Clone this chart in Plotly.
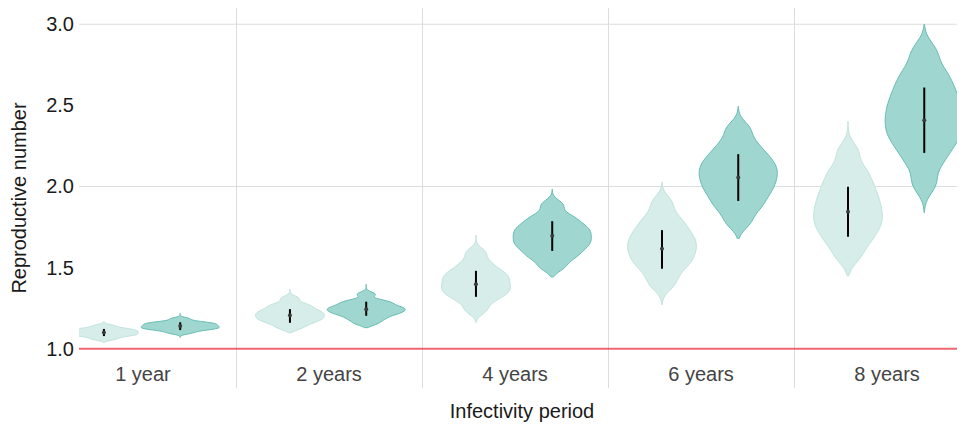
import plotly.graph_objects as go

# ---------------- data ----------------
categories = ["1 year", "2 years", "4 years", "6 years", "8 years"]

# estimated sample quantiles for each violin
s1_light = [1.057, 1.068, 1.078, 1.082, 1.087, 1.091, 1.096, 1.100, 1.105, 1.109, 1.114, 1.118, 1.123, 1.131, 1.144]
s1_dark = [1.096, 1.108, 1.117, 1.121, 1.126, 1.130, 1.134, 1.139, 1.143, 1.148, 1.153, 1.157, 1.162, 1.169, 1.185]
s2_light = [1.126, 1.147, 1.163, 1.173, 1.183, 1.192, 1.201, 1.210, 1.219, 1.228, 1.237, 1.250, 1.264, 1.278, 1.311]
s2_dark = [1.155, 1.177, 1.192, 1.207, 1.216, 1.225, 1.233, 1.241, 1.248, 1.255, 1.264, 1.276, 1.287, 1.299, 1.336]
s4_light = [1.235, 1.283, 1.316, 1.335, 1.353, 1.370, 1.387, 1.405, 1.423, 1.441, 1.459, 1.477, 1.504, 1.540, 1.595]
s4_dark = [1.502, 1.553, 1.580, 1.608, 1.630, 1.649, 1.668, 1.687, 1.707, 1.726, 1.745, 1.765, 1.794, 1.823, 1.887]
s6_light = [1.388, 1.447, 1.497, 1.528, 1.556, 1.584, 1.610, 1.635, 1.660, 1.685, 1.714, 1.745, 1.782, 1.828, 1.905]
s6_dark = [1.778, 1.854, 1.897, 1.940, 1.975, 2.006, 2.036, 2.066, 2.094, 2.122, 2.151, 2.185, 2.223, 2.277, 2.358]
s8_light = [1.563, 1.640, 1.685, 1.730, 1.763, 1.796, 1.829, 1.863, 1.898, 1.934, 1.975, 2.015, 2.067, 2.121, 2.221]
s8_dark = [2.014, 2.136, 2.210, 2.265, 2.311, 2.350, 2.390, 2.431, 2.472, 2.513, 2.558, 2.608, 2.663, 2.727, 2.835]

samples_light = [s1_light, s2_light, s4_light, s6_light, s8_light]
samples_dark = [s1_dark, s2_dark, s4_dark, s6_dark, s8_dark]

# observed extent of each violin
span_min_light = [1.037, 1.099, 1.163, 1.271, 1.450]
span_max_light = [1.169, 1.368, 1.700, 2.028, 2.402]
span_min_dark = [1.070, 1.130, 1.443, 1.680, 1.840]
span_max_dark = [1.218, 1.397, 1.983, 2.494, 2.998]

# kernel bandwidths
bw_light = [0.008, 0.015, 0.028, 0.042, 0.052]
bw_dark = [0.008, 0.014, 0.030, 0.046, 0.062]

# medians and interval (black line)
med_light = [1.100, 1.207, 1.398, 1.616, 1.844]
lo_light = [1.078, 1.160, 1.320, 1.493, 1.690]
hi_light = [1.122, 1.244, 1.480, 1.731, 1.998]
med_dark = [1.140, 1.244, 1.696, 2.055, 2.408]
lo_dark = [1.115, 1.203, 1.603, 1.911, 2.207]
hi_dark = [1.163, 1.290, 1.786, 2.199, 2.610]

y_ticks = [1.0, 1.5, 2.0, 2.5, 3.0]
y_grid = [2.0, 3.0]
threshold = 1.0

# ---------------- style ----------------
FONT = "Liberation Sans, Arial, Helvetica, sans-serif"
LIGHT_FILL, LIGHT_LINE = "#d6ede9", "#c2e3dd"
DARK_FILL, DARK_LINE = "#9fd7d0", "#66bdb1"
OFF_LIGHT, OFF_DARK = -0.21, 0.20
W_LIGHT, W_DARK = 0.37, 0.42

fig = go.Figure()
idx = list(range(len(categories)))


def add_group(samples, smin, smax, bws, off, width, fill, line):
    for i, s in enumerate(samples):
        fig.add_trace(go.Violin(
            x0=i + off, y=s, width=width, scalemode="width",
            spanmode="manual", span=[smin[i], smax[i]], bandwidth=bws[i],
            points=False, box_visible=False, meanline_visible=False,
            fillcolor=fill, line=dict(color=line, width=1),
            opacity=1, showlegend=False, hoverinfo="skip",
        ))


add_group(samples_light, span_min_light, span_max_light, bw_light,
          OFF_LIGHT, W_LIGHT, LIGHT_FILL, LIGHT_LINE)
add_group(samples_dark, span_min_dark, span_max_dark, bw_dark,
          OFF_DARK, W_DARK, DARK_FILL, DARK_LINE)


def add_summary(med, lo, hi, off):
    fig.add_trace(go.Scatter(
        x=[i + off for i in idx], y=med, mode="markers",
        marker=dict(size=4, color="#3a3a3a"),
        error_y=dict(type="data", symmetric=False,
                     array=[h - m for h, m in zip(hi, med)],
                     arrayminus=[m - l for m, l in zip(med, lo)],
                     width=0, thickness=2, color="black"),
        showlegend=False, hoverinfo="skip",
    ))


add_summary(med_light, lo_light, hi_light, OFF_LIGHT)
add_summary(med_dark, lo_dark, hi_dark, OFF_DARK)

shapes = []
for g in y_grid:
    shapes.append(dict(type="line", xref="paper", x0=0, x1=1, yref="y", y0=g, y1=g,
                       line=dict(color="#dddddd", width=1), layer="below"))
shapes.append(dict(type="line", xref="paper", x0=0, x1=1, yref="y",
                   y0=threshold, y1=threshold,
                   line=dict(color="rgba(236,45,55,0.72)", width=2), layer="above"))

fig.update_layout(
    width=957, height=416,
    margin=dict(l=71, r=0, t=0, b=36),
    plot_bgcolor="white", paper_bgcolor="white",
    violinmode="overlay",
    font=dict(family=FONT, size=20, color="#1a1a1a"),
    shapes=shapes,
    xaxis=dict(
        range=[-0.344, 4.419], tickmode="array", tickvals=idx, ticktext=categories,
        ticklabelposition="inside", ticks="", showgrid=False, zeroline=False, showline=False,
        minor=dict(tickmode="array", tickvals=[i + 0.5 for i in idx[:-1]],
                   showgrid=True, gridcolor="#dcdcdc", gridwidth=1, ticks=""),
        title=dict(text="Infectivity period", font=dict(size=20), standoff=19),
    ),
    yaxis=dict(
        range=[0.758, 3.10], tickmode="array", tickvals=y_ticks, tickformat=".1f",
        ticks="", showgrid=False, zeroline=False, showline=False, ticklabelstandoff=4,
        title=dict(text="Reproductive number", font=dict(size=20), standoff=15),
    ),
)

fig.write_html("out.html")
